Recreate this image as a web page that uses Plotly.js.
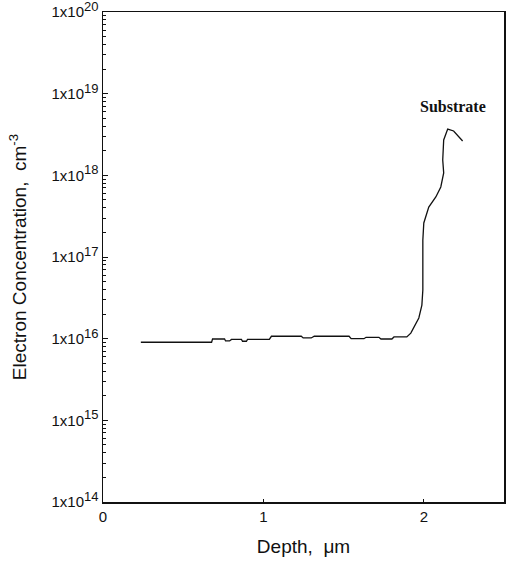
<!DOCTYPE html>
<html>
<head>
<meta charset="utf-8">
<script src="https://cdn.plot.ly/plotly-3.0.1.min.js"></script>
<style>html,body{margin:0;padding:0;background:#fff}#chart{width:506px;height:562px}</style>
</head>
<body>
<div id="chart"></div>
<script>
var depth = [0.236, 0.677, 0.683, 0.758, 0.764, 0.789, 0.801, 0.863, 0.870, 0.894, 0.901, 1.037, 1.050, 1.236, 1.248, 1.298, 1.317, 1.534, 1.547, 1.627, 1.640, 1.720, 1.733, 1.801, 1.814, 1.894, 1.919, 1.944, 1.969, 1.988, 1.994, 1.994, 1.994, 2.000, 2.031, 2.075, 2.106, 2.124, 2.118, 2.124, 2.137, 2.149, 2.186, 2.242];
var concentration = [9.04e15, 9.04e15, 9.9e15, 9.9e15, 9.37e15, 9.37e15, 9.8e15, 9.8e15, 9.3e15, 9.3e15, 9.8e15, 9.8e15, 1.07e16, 1.07e16, 1.02e16, 1.02e16, 1.07e16, 1.07e16, 1.0e16, 1.0e16, 1.04e16, 1.04e16, 9.9e15, 9.9e15, 1.05e16, 1.05e16, 1.17e16, 1.43e16, 1.79e16, 2.58e16, 3.94e16, 9.2e16, 1.61e17, 2.61e17, 4.09e17, 5.43e17, 7.2e17, 1.07e18, 1.54e18, 2.71e18, 3.30e18, 3.69e18, 3.49e18, 2.63e18];
var yTickVals = [1e14, 1e15, 1e16, 1e17, 1e18, 1e19, 1e20];
var yExponents = ['14', '15', '16', '17', '18', '19', '20'];
var xTickVals = [0, 1, 2];
var xTickText = ['0', '1', '2'];
var annotationText = 'Substrate';

var yTickText = yExponents.map(function (e) {
  return '1x10<sup><span style="font-size:13px">' + e + '</span></sup>';
});

var minorVals = [];
for (var d = 14; d < 20; d++) { for (var m = 2; m <= 9; m++) minorVals.push(m * Math.pow(10, d)); }

var trace = {
  x: depth, y: concentration, type: 'scatter', mode: 'lines',
  line: {color: '#111', width: 1.3, shape: 'linear'},
  hoverinfo: 'skip'
};
var layout = {
  width: 506, height: 562,
  margin: {l: 103, r: 2, t: 12, b: 60},
  paper_bgcolor: '#fff', plot_bgcolor: '#fff',
  showlegend: false,
  font: {family: 'Liberation Sans, Arial, sans-serif', color: '#111', size: 15},
  xaxis: {
    range: [0, 2.5], tickmode: 'array', tickvals: xTickVals, ticktext: xTickText,
    showgrid: false, zeroline: false, showline: true, mirror: true, linecolor: '#111', linewidth: 1.5,
    ticks: 'inside', ticklen: 3, tickcolor: '#111',
    tickfont: {size: 15}, ticklabeloverflow: 'allow',
    title: {text: 'Depth,  \u03bcm', font: {size: 19}, standoff: 16}
  },
  yaxis: {
    type: 'log', range: [14, 20], tickmode: 'array', tickvals: yTickVals, ticktext: yTickText,
    showgrid: false, zeroline: false, showline: true, mirror: true, linecolor: '#111', linewidth: 1.5,
    ticks: 'inside', ticklen: 5, tickcolor: '#111',
    minor: {tickmode: 'array', tickvals: minorVals, ticks: 'inside', ticklen: 3, tickcolor: '#111', showgrid: false},
    tickfont: {size: 15}, ticklabeloverflow: 'allow',
    title: {text: 'Electron Concentration,  cm<sup>-3</sup>', font: {size: 19}, standoff: 20}
  },
  annotations: [{
    x: 2.18, y: Math.log10(6.9e18), xref: 'x', yref: 'y', text: '<b>' + annotationText + '</b>', showarrow: false,
    font: {family: 'Liberation Serif, Times New Roman, serif', size: 16, color: '#111'}
  }]
};
Plotly.newPlot('chart', [trace], layout, {staticPlot: true, displayModeBar: false});
</script>
</body>
</html>
